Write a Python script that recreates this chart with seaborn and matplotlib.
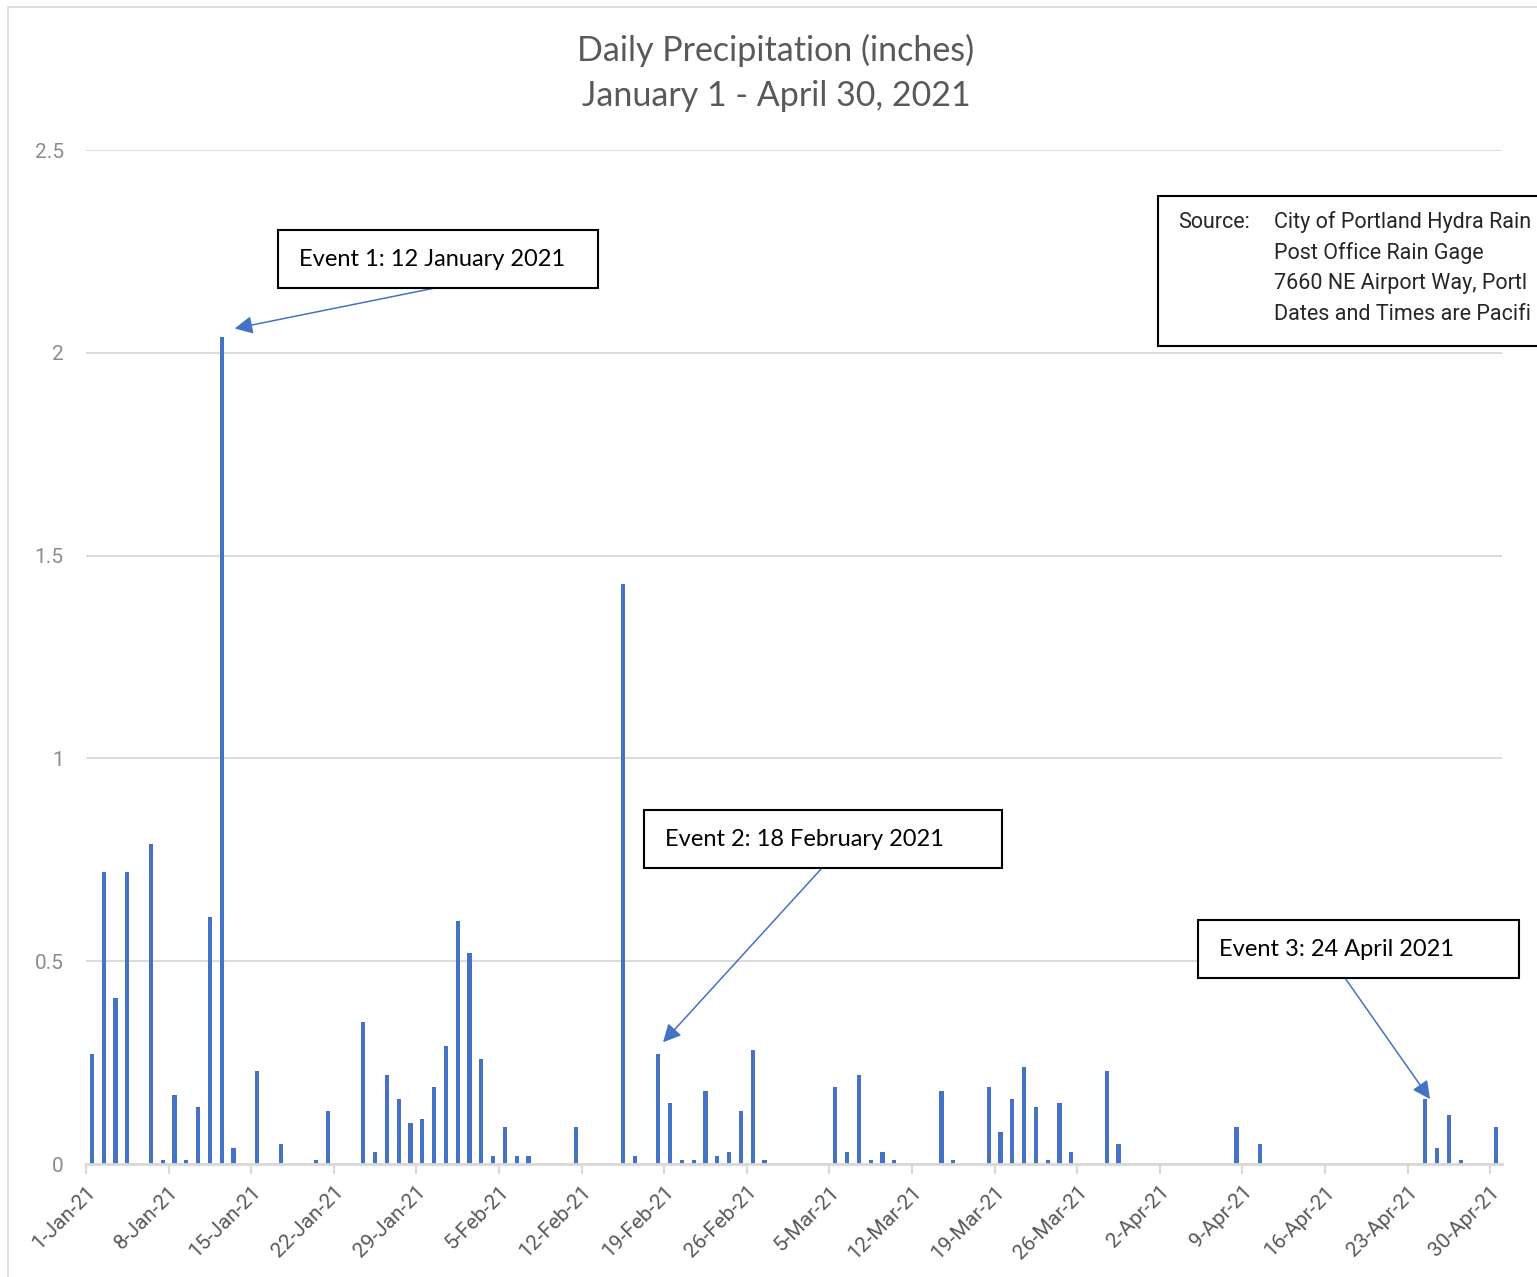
import pandas as pd
import matplotlib.pyplot as plt
import seaborn as sns
from matplotlib.patches import Rectangle

# daily rainfall, non-zero days only (inches)
rain_dates = [
    "2021-01-01", "2021-01-02", "2021-01-03", "2021-01-04", "2021-01-06",
    "2021-01-07", "2021-01-08", "2021-01-09", "2021-01-10", "2021-01-11",
    "2021-01-12", "2021-01-13", "2021-01-15", "2021-01-17", "2021-01-20",
    "2021-01-21", "2021-01-24", "2021-01-25", "2021-01-26", "2021-01-27",
    "2021-01-28", "2021-01-29", "2021-01-30", "2021-01-31", "2021-02-01",
    "2021-02-02", "2021-02-03", "2021-02-04", "2021-02-05", "2021-02-06",
    "2021-02-07", "2021-02-11", "2021-02-15", "2021-02-16", "2021-02-18",
    "2021-02-19", "2021-02-20", "2021-02-21", "2021-02-22", "2021-02-23",
    "2021-02-24", "2021-02-25", "2021-02-26", "2021-02-27", "2021-03-05",
    "2021-03-06", "2021-03-07", "2021-03-08", "2021-03-09", "2021-03-10",
    "2021-03-14", "2021-03-15", "2021-03-18", "2021-03-19", "2021-03-20",
    "2021-03-21", "2021-03-22", "2021-03-23", "2021-03-24", "2021-03-25",
    "2021-03-28", "2021-03-29", "2021-04-08", "2021-04-10", "2021-04-24",
    "2021-04-25", "2021-04-26", "2021-04-27", "2021-04-30",
]
rain_inches = [
    0.27, 0.72, 0.41, 0.72, 0.79,
    0.01, 0.17, 0.01, 0.14, 0.61,
    2.04, 0.04, 0.23, 0.05, 0.01,
    0.13, 0.35, 0.03, 0.22, 0.16,
    0.10, 0.11, 0.19, 0.29, 0.60,
    0.52, 0.26, 0.02, 0.09, 0.02,
    0.02, 0.09, 1.43, 0.02, 0.27,
    0.15, 0.01, 0.01, 0.18, 0.02,
    0.03, 0.13, 0.28, 0.01, 0.19,
    0.03, 0.22, 0.01, 0.03, 0.01,
    0.18, 0.01, 0.19, 0.08, 0.16,
    0.24, 0.14, 0.01, 0.15, 0.03,
    0.23, 0.05, 0.09, 0.05, 0.16,
    0.04, 0.12, 0.01, 0.09,
]
y_ticks = [0, 0.5, 1, 1.5, 2, 2.5]
y_tick_labels = ["0", "0.5", "1", "1.5", "2", "2.5"]

events = [
    ("Event 1: 12 January 2021", "2021-01-12"),
    ("Event 2: 18 February 2021", "2021-02-18"),
    ("Event 3: 24 April 2021", "2021-04-24"),
]
# the source box runs off the right edge of the chart, only this much shows
source_label = "Source:"
source_lines = [
    "City of Portland Hydra Rain",
    "Post Office Rain Gage",
    "7660 NE Airport Way, Portl",
    "Dates and Times are Pacifi",
]

W, H = 1537, 1277
BLUE = "#4472C4"
NARROW = ["Liberation Sans Narrow", "Roboto", "DejaVu Sans"]


def px(x, y):
    """pixel position (from top-left) to figure fraction"""
    return x / W, 1 - y / H


start = pd.Timestamp("2021-01-01")
df = pd.DataFrame({"date": pd.to_datetime(rain_dates), "inches": rain_inches})
df["pos"] = (df["date"] - start).dt.days + 0.5

sns.set_theme(style="white")
plt.rcParams["font.family"] = ["Lato", "DejaVu Sans"]

fig = plt.figure(figsize=(W / 100, H / 100), dpi=100)
ax = fig.add_axes([86 / W, 1 - 1164 / H, (1502 - 86) / W, (1164 - 150) / H])

sns.barplot(data=df, x="pos", y="inches", native_scale=True, width=0.34,
            color=BLUE, saturation=1, linewidth=0, ax=ax)

ax.set_xlim(0, 120)
ax.set_ylim(0, 2.5)
tick_days = list(range(0, 120, 7))
tick_labels = [(start + pd.Timedelta(days=d)).strftime("%-d-%b-%y") for d in tick_days]
ax.set_xticks(tick_days)
ax.set_xticklabels(tick_labels, rotation=45, ha="right", rotation_mode="anchor",
                   family=NARROW, fontsize=15, color="#595959")
ax.set_yticks(y_ticks)
ax.set_yticklabels(y_tick_labels, family=NARROW, fontsize=15, color="#8c8c8c")
ax.set_xlabel("")
ax.set_ylabel("")
ax.grid(axis="y", color="#d9d9d9", lw=1.3)
ax.set_axisbelow(True)
for side in ["top", "right", "left"]:
    ax.spines[side].set_visible(False)
ax.spines["bottom"].set_color("#d9d9d9")
ax.spines["bottom"].set_linewidth(2)
ax.tick_params(axis="x", direction="out", length=7, width=1.5, color="#d9d9d9", pad=6,
               bottom=True)
ax.tick_params(axis="y", length=0, pad=16)

# chart border
fig.patches.append(Rectangle(px(8, 1290), 2, (1290 - 7) / H, transform=fig.transFigure,
                             fill=False, ec="#d9d9d9", lw=1.2))

fig.text(*px(776, 50), "Daily Precipitation (inches)", ha="center", va="center",
         fontsize=24.5, color="#595959")
fig.text(*px(776, 96), "January 1 - April 30, 2021", ha="center", va="center",
         fontsize=24.5, color="#595959")

# event callouts: box (left, top, right, bottom), arrow start, arrow tip offset
boxes = [(278, 230, 598, 288), (644, 810, 1002, 868), (1198, 920, 1519, 978)]
arrow_starts = [(435, 288), (822, 868), (1345, 978)]
tip_offsets = [(1.1, 0.02), (0.4, 0.03), (0.4, 0.0)]
for (label, day), (l, t, r, b), (sx, sy), (dx, dy) in zip(events, boxes, arrow_starts, tip_offsets):
    fig.patches.append(Rectangle(px(l, b), (r - l) / W, (b - t) / H, transform=fig.transFigure,
                                 fill=True, fc="white", ec="black", lw=1.5, zorder=5))
    fig.text(*px(l + 21, (t + b) / 2), label, ha="left", va="center", fontsize=17,
             color="black", zorder=6)
    row = df[df["date"] == pd.Timestamp(day)].iloc[0]
    ax.annotate("", xy=(row["pos"] + dx, row["inches"] + dy), xycoords="data",
                xytext=px(sx, sy), textcoords="figure fraction",
                arrowprops=dict(arrowstyle="-|>", color=BLUE, lw=1.1, mutation_scale=27,
                                shrinkA=0, shrinkB=0))

# source box
fig.patches.append(Rectangle(px(1158, 346), 0.3, (346 - 196) / H, transform=fig.transFigure,
                             fill=True, fc="white", ec="black", lw=1.5, zorder=5))
fig.text(*px(1178, 222), source_label, ha="left", va="center", family=NARROW,
         fontsize=15.5, color="#262626", zorder=6)
for i, line in enumerate(source_lines):
    fig.text(*px(1274, 222 + i * 30.7), line, ha="left", va="center", family=NARROW,
             fontsize=15.5, color="#262626", zorder=6)

fig.savefig("out.png", dpi=100)
